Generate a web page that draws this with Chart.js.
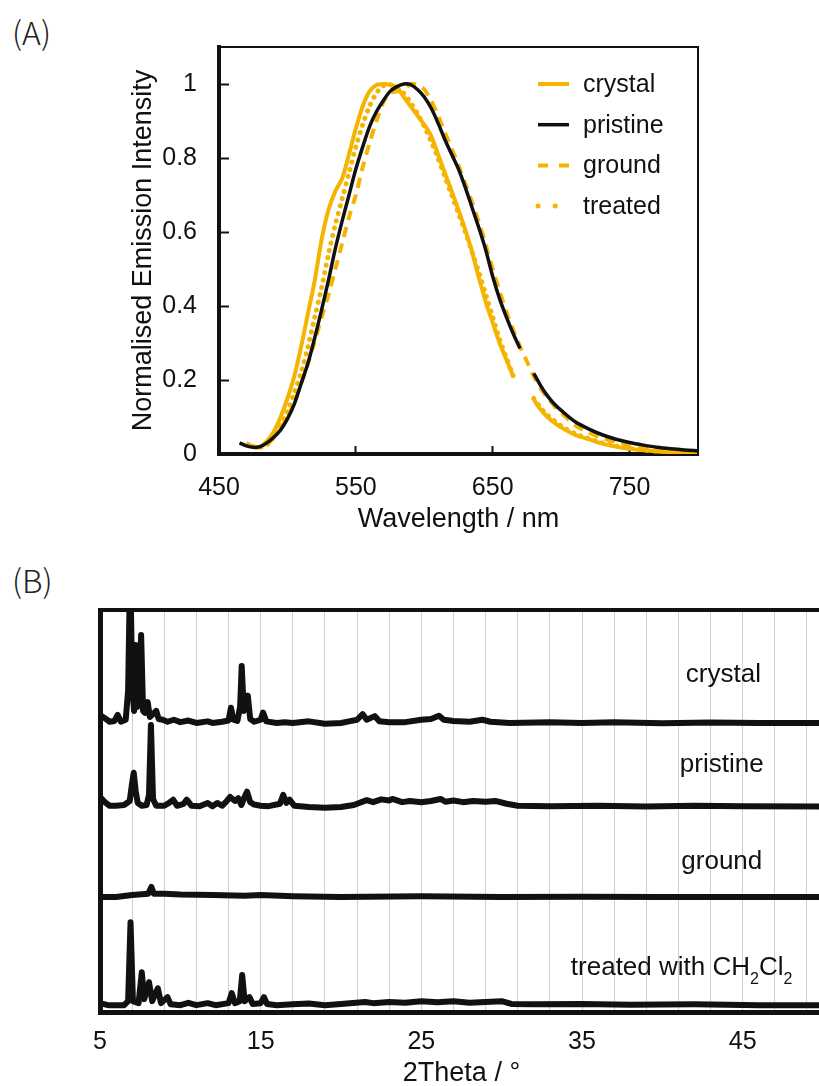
<!DOCTYPE html>
<html>
<head>
<meta charset="utf-8">
<script src="https://cdn.jsdelivr.net/npm/chart.js@4"></script>
<style>
html, body { margin: 0; padding: 0; background: #fff; overflow: hidden; }
body { width: 819px; height: 1086px; position: relative; }
.panel { position: absolute; left: 12px; font: 300 32px "Noto Sans CJK JP", "Noto Sans", sans-serif; line-height: 1; color: #222; }
#boxA { position: absolute; left: 0; top: 0; }
#boxB { position: absolute; left: 0; top: 560px; }
</style>
</head>
<body>
<div class="panel" style="top:15px">(A)</div>
<div class="panel" style="top:563px">(B)</div>
<div id="boxA"><canvas id="chartA" width="819" height="540"></canvas></div>
<div id="boxB"><canvas id="chartB" width="830" height="530"></canvas></div>
<script>
// ---- (A) emission spectra ----
var wavelength = [465,470,475,480,485,490,495,500,505,510,
  515,520,525,530,535,540,545,550,555,560,
  565,570,575,580,585,590,595,600,605,610,
  615,620,625,630,635,640,645,650,655,660,
  665,670,675,680,685,690,695,700,710,720,
  730,740,750,760,770,780,790,800];

var crystalPL = [null,0.03,0.02,0.02,0.035,0.06,0.1,0.15,0.21,0.29,
  0.38,0.47,0.58,0.66,0.71,0.745,0.81,0.88,0.94,0.98,
  0.997,1.0,0.998,0.99,0.965,0.94,0.915,0.89,0.86,0.81,
  0.76,0.71,0.66,0.605,0.545,0.475,0.41,0.355,0.30,0.255,
  0.21,null,null,0.147,0.12,0.1,0.085,0.072,0.052,0.04,
  0.028,0.02,0.014,0.01,0.007,0.005,0.004,0.003];

var pristinePL = [0.03,0.022,0.018,0.02,0.03,0.045,0.065,0.095,0.135,0.19,
  0.245,0.315,0.39,0.47,0.555,0.63,0.70,0.77,0.83,0.885,
  0.925,0.955,0.98,0.993,1.0,0.998,0.985,0.965,0.935,0.895,
  0.85,0.81,0.77,0.72,0.665,0.61,0.55,0.48,0.42,0.37,
  0.325,0.285,null,0.218,0.185,0.157,0.135,0.118,0.088,0.068,
  0.052,0.04,0.031,0.024,0.018,0.014,0.011,0.009];

var groundPL = [null,null,0.02,0.018,0.025,0.045,0.07,0.1,0.14,0.19,
  0.245,0.305,0.37,0.43,0.5,0.57,0.64,0.70,0.775,0.84,
  0.9,0.95,0.975,0.98,0.985,1.0,0.998,0.985,0.955,0.915,
  0.87,0.825,0.78,0.73,0.68,0.625,0.565,0.5,0.44,0.385,
  0.335,0.29,0.25,0.21,0.178,0.152,0.13,0.112,0.078,0.058,
  0.043,0.032,0.024,0.017,0.012,0.008,0.005,0.003];

var treatedPL = [null,null,0.02,0.018,0.025,0.045,0.075,0.115,0.165,0.22,
  0.29,0.37,0.45,0.54,0.62,0.69,0.76,0.83,0.89,0.94,
  0.975,0.995,0.998,0.99,0.975,0.95,0.92,0.885,0.845,0.8,
  0.75,0.7,0.65,0.6,0.545,0.49,0.43,0.37,0.31,0.26,
  0.21,null,null,0.15,0.125,0.105,0.09,0.076,0.055,0.042,
  0.03,0.022,0.015,0.011,0.008,0.006,0.004,0.003];

var wavelengthTicks = [450, 550, 650, 750];
var intensityTicks = [0, 0.2, 0.4, 0.6, 0.8, 1];

// ---- (B) powder XRD, [2theta, intensity above own baseline] ----
var crystalXRD = [[5.0,2.0],[5.3,1.2],[5.6,0.3],[5.9,0.5],[6.1,2.0],[6.3,0.3],[6.6,0.8],[6.75,8],[6.88,40],[7.0,10],
  [7.12,3],[7.22,19.4],[7.33,4],[7.45,6],[7.56,21.9],[7.68,3],[7.8,2.5],[7.97,5.2],[8.1,1.5],[8.3,2.2],
  [8.5,3],[8.65,1],[8.9,0.8],[9.2,0.3],[9.6,0.8],[10.0,0.2],[10.5,0.6],[11.0,0],[11.7,0.4],[12.0,0],
  [12.6,0.3],[13.0,0.6],[13.15,3.8],[13.3,0.8],[13.55,0.5],[13.72,4],[13.82,14.2],[13.95,3],[14.1,4],[14.2,6.8],
  [14.35,1],[14.6,0.3],[15.0,0.8],[15.15,2.6],[15.35,0.4],[16.0,0],[16.5,0.2],[17.0,0],[18.0,0.4],[19.0,-0.2],
  [20.0,0],[20.5,0.4],[21.0,0.8],[21.35,2.2],[21.6,0.8],[22.1,1.7],[22.4,0.4],[23.0,0.2],[24.0,0.2],[25.0,0.8],
  [25.6,1.0],[26.1,1.8],[26.4,0.8],[27.0,0.5],[28.0,0.3],[28.8,0.8],[29.3,0.3],[30.5,0],[33,0.2],[35,0],
  [37,0.2],[40,-0.1],[43,0.1],[46,0],[50,0]];

var pristineXRD = [[5.0,2.5],[5.3,1.2],[5.6,0.3],[6.0,0.3],[6.5,0.5],[6.85,1.5],[7.0,6],[7.1,8.5],[7.22,4],[7.35,1],
  [7.6,0.3],[7.9,0.5],[8.05,3],[8.17,20.4],[8.3,2],[8.5,0.3],[9.0,0.3],[9.3,1],[9.55,1.8],[9.8,0.3],
  [10.2,0.8],[10.4,1.8],[10.7,0.3],[11.2,0.2],[11.7,1],[12.0,0.2],[12.3,1],[12.6,0.3],[12.9,1.5],[13.1,2.5],
  [13.4,1.5],[13.6,2.2],[13.8,0.5],[14.0,2.5],[14.15,3.8],[14.35,1.2],[14.6,0.6],[15.0,0.3],[15.5,0.2],[16.2,0.8],
  [16.4,3],[16.6,1],[16.8,1.8],[17.1,0.3],[18,0],[19,-0.2],[20,0],[20.8,0.5],[21.6,1.7],[22.0,1.2],
  [22.5,1.9],[23.0,1.6],[23.2,2.0],[23.8,1.2],[24.3,1.5],[25.0,1.2],[25.6,1.5],[26.2,2.0],[26.5,1.3],[27.0,1.6],
  [27.6,1.2],[28.2,1.5],[29.0,1.3],[29.6,1.5],[30.3,0.8],[31,0.3],[33,0.2],[36,0.3],[39,0.1],[42,0.3],
  [45,0.2],[50,0.1]];

var groundXRD = [[5.0,0],[6,0],[7,0.5],[8.0,0.8],[8.2,2.5],[8.35,0.8],[9,0.8],[10,0.6],[12,0.5],[14,0.3],
  [15,0.5],[17,0.2],[20,0],[25,0.2],[30,0],[35,0.1],[40,0],[45,0],[50,0]];

var treatedXRD = [[5.0,0.5],[5.5,0],[6.5,0],[6.75,1],[6.9,20.6],[7.05,1],[7.4,0.5],[7.6,8.2],[7.75,1.5],[8.05,5.7],
  [8.25,1],[8.6,4.2],[8.8,0.5],[9.2,2.0],[9.4,0.2],[10.0,0],[10.5,0.6],[11,0],[11.7,0.5],[12.2,0],
  [13.0,0.5],[13.2,3.0],[13.4,0.5],[13.7,1],[13.85,7.5],[14.0,1],[14.3,2.0],[14.5,0.3],[15.0,0.5],[15.2,2],
  [15.4,0.3],[16,0],[17,0.2],[18,0.4],[19,0],[20,0.3],[21.5,0.8],[22,0.5],[23,0.8],[24,0.6],
  [25,1.0],[26,0.7],[27,1.0],[28,0.6],[29,0.8],[30,1.0],[30.6,0.3],[32,0.2],[35,0.3],[38,0.1],
  [42,0.2],[46,0],[50,0]];

var patternNames = ['crystal', 'pristine', 'ground', 'treated with CH_2Cl_2'];
var patternOffsets = [71.9, 51.0, 28.6, 1.7];
var patternLabelX = [43.8, 43.7, 43.7, 41.2];
var patternLabelY = [83.8, 61.4, 37.3, 10.9];
var thetaGrid = [5,7,9,11,13,15,17,19,21,23,25,27,29,31,33,35,37,39,41,43,45,47,49];
var thetaLabels = [5, 15, 25, 35, 45];

var FONT = '"Liberation Sans", Arial, sans-serif';
var INK = '#111';
var GOLD = '#F4B400';
Chart.defaults.font.family = FONT;
Chart.defaults.color = INK;

function toPoints(arr) {
  return wavelength.map(function(w, i) { return {x: w, y: arr[i]}; });
}

// thin top/right frame lines round the plot area
var frame = {
  id: 'frame',
  afterDraw: function(chart, args, opts) {
    var a = chart.chartArea, ctx = chart.ctx;
    ctx.save();
    ctx.strokeStyle = INK;
    ctx.lineWidth = opts.width;
    ctx.beginPath();
    ctx.moveTo(a.left, a.top);
    ctx.lineTo(a.right, a.top);
    if (opts.right) ctx.lineTo(a.right, a.bottom);
    ctx.stroke();
    ctx.restore();
  }
};

// legend drawn inside the plot, top right
var insideLegend = {
  id: 'insideLegend',
  afterDatasetsDraw: function(chart) {
    var a = chart.chartArea, ctx = chart.ctx;
    ctx.save();
    ctx.font = '25px ' + FONT;
    ctx.textBaseline = 'middle';
    ctx.fillStyle = INK;
    chart.data.datasets.forEach(function(ds, i) {
      var y = a.top + 37 + i * 40.7;
      var x0 = a.right - 160;
      ctx.strokeStyle = ds.borderColor;
      ctx.lineWidth = ds.borderWidth;
      ctx.lineCap = ds.borderCapStyle || 'butt';
      ctx.setLineDash(ds.legendDash || []);
      ctx.beginPath();
      ctx.moveTo(x0, y);
      ctx.lineTo(x0 + 31, y);
      ctx.stroke();
      ctx.setLineDash([]);
      ctx.fillText(ds.label, x0 + 45, y + 1);
    });
    ctx.restore();
  }
};

new Chart('chartA', {
  type: 'line',
  data: {
    datasets: [
      {label: 'crystal', data: toPoints(crystalPL), borderColor: GOLD, borderWidth: 4, order: 2},
      {label: 'pristine', data: toPoints(pristinePL), borderColor: INK, borderWidth: 3.5, order: 0},
      {label: 'ground', data: toPoints(groundPL), borderColor: GOLD, borderWidth: 4, borderDash: [10, 7], legendDash: [10, 11], order: 1},
      {label: 'treated', data: toPoints(treatedPL), borderColor: GOLD, borderWidth: 5, borderDash: [0.1, 7.5], borderCapStyle: 'round', legendDash: [0.1, 17], order: 3}
    ]
  },
  options: {
    responsive: false,
    animation: false,
    spanGaps: false,
    elements: { point: { radius: 0 }, line: { tension: 0.3 } },
    layout: { padding: { left: 113, right: 121, top: 43, bottom: 0 } },
    plugins: {
      legend: { display: false },
      tooltip: { enabled: false },
      frame: { width: 2, right: true }
    },
    scales: {
      x: {
        type: 'linear', min: 450, max: 800,
        afterFit: function(s) { s.height = 86; },
        afterBuildTicks: function(s) { s.ticks = wavelengthTicks.map(function(v) { return {value: v}; }); },
        ticks: { padding: 27, maxRotation: 0, font: { size: 25 } },
        grid: { drawOnChartArea: false, tickLength: -8, tickWidth: 2, color: INK },
        border: { width: 4, color: INK },
        title: { display: true, text: 'Wavelength / nm', font: { size: 27 }, padding: { top: 4, bottom: 4 } }
      },
      y: {
        min: 0, max: 1.1,
        afterFit: function(s) { s.width = 106; },
        afterBuildTicks: function(s) { s.ticks = intensityTicks.map(function(v) { return {value: v}; }); },
        ticks: { padding: 32, font: { size: 25 }, callback: function(v) { return String(Math.round(v * 10) / 10); } },
        grid: { drawOnChartArea: false, tickLength: -10, tickWidth: 2, color: INK },
        border: { width: 4, color: INK },
        title: { display: true, text: 'Normalised Emission Intensity', font: { size: 27 }, padding: { top: 14, bottom: 0 } }
      }
    }
  },
  plugins: [frame, insideLegend]
});

// ---- chart B ----
var patternLabels = {
  id: 'patternLabels',
  afterDatasetsDraw: function(chart) {
    var ctx = chart.ctx, xs = chart.scales.x, ys = chart.scales.y;
    ctx.save();
    ctx.fillStyle = INK;
    ctx.textBaseline = 'middle';
    patternNames.forEach(function(name, i) {
      var parts = name.split(/_(\d)/);
      var big = '26px ' + FONT, small = '16px ' + FONT;
      var w = 0;
      parts.forEach(function(p, k) { ctx.font = k % 2 ? small : big; w += ctx.measureText(p).width; });
      var x = xs.getPixelForValue(patternLabelX[i]) - w / 2;
      var y = ys.getPixelForValue(patternLabelY[i]);
      parts.forEach(function(p, k) {
        ctx.font = k % 2 ? small : big;
        ctx.fillText(p, x, k % 2 ? y + 11 : y);
        x += ctx.measureText(p).width;
      });
    });
    ctx.restore();
  }
};

var xrdSets = [crystalXRD, pristineXRD, groundXRD, treatedXRD].map(function(arr, i) {
  return {
    label: patternNames[i],
    data: arr.map(function(p) { return {x: p[0], y: p[1] + patternOffsets[i]}; }),
    borderColor: INK,
    borderWidth: 6,
    borderJoinStyle: 'round',
    tension: 0
  };
});

new Chart('chartB', {
  type: 'line',
  data: { datasets: xrdSets },
  options: {
    responsive: false,
    animation: false,
    elements: { point: { radius: 0 } },
    layout: { padding: { left: 0, right: 7, top: 50, bottom: 0 } },
    plugins: {
      legend: { display: false },
      tooltip: { enabled: false },
      frame: { width: 4, right: false }
    },
    scales: {
      x: {
        type: 'linear', min: 5, max: 50,
        afterFit: function(s) { s.height = 78; },
        afterBuildTicks: function(s) { s.ticks = thetaGrid.map(function(v) { return {value: v}; }); },
        ticks: {
          padding: 15, autoSkip: false, maxRotation: 0, font: { size: 25 },
          callback: function(v) { return thetaLabels.indexOf(v) >= 0 ? String(v) : ''; }
        },
        grid: { drawTicks: false, color: '#cfcfcf', lineWidth: 1 },
        border: { width: 5, color: INK },
        title: { display: true, text: '2Theta / °', font: { size: 27 }, padding: { top: 0, bottom: 0 } }
      },
      y: {
        min: 0, max: 100,
        afterFit: function(s) { s.width = 100; },
        ticks: { display: false },
        grid: { drawOnChartArea: false, drawTicks: false },
        border: { width: 5, color: INK }
      }
    }
  },
  plugins: [frame, patternLabels]
});
</script>
</body>
</html>
